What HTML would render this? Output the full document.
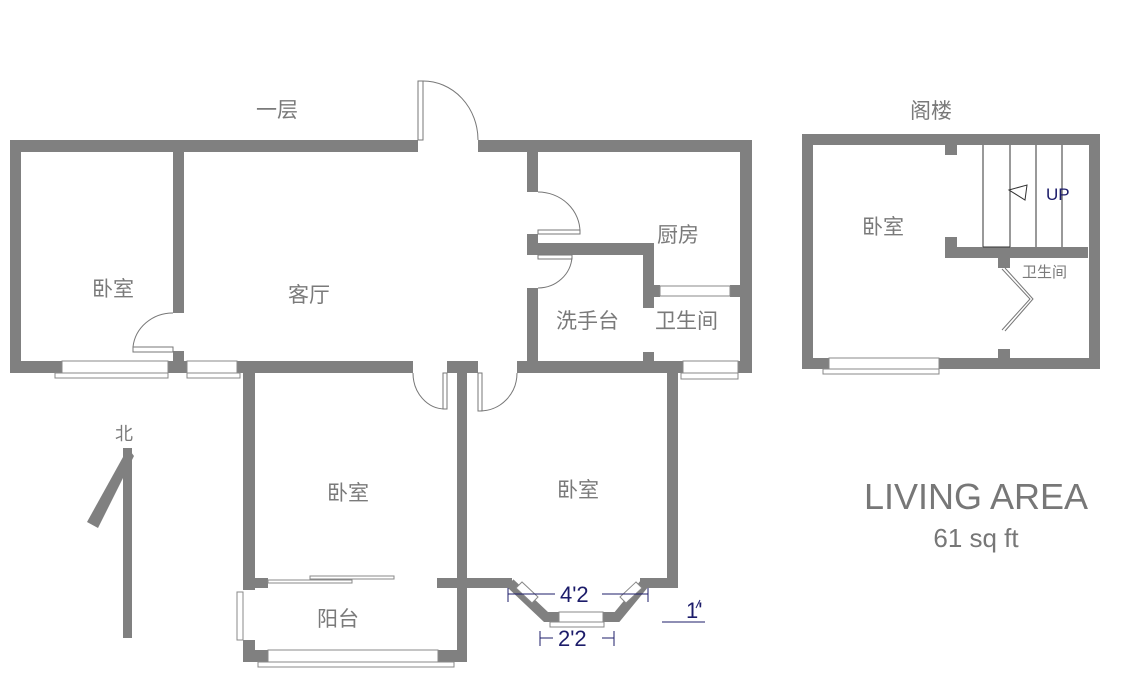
<!DOCTYPE html>
<html><head><meta charset="utf-8"><style>
html,body{margin:0;padding:0;background:#fff;}
svg{display:block;}
text{font-family:"Liberation Sans","Noto Sans CJK SC",sans-serif;}
.t{fill:#7a7a7a;font-size:21px;}
.d{fill:#1c1c6a;font-size:22px;}
</style></head><body>
<svg width="1125" height="674" viewBox="0 0 1125 674" xmlns="http://www.w3.org/2000/svg">
<rect width="1125" height="674" fill="#fff"/>
<g fill="#808080">
<rect x="10" y="140" width="408" height="12"/>
<rect x="478" y="140" width="274" height="12"/>
<rect x="10" y="140" width="11" height="233"/>
<rect x="740" y="140" width="12" height="233"/>
<rect x="173" y="140" width="11" height="173"/>
<rect x="173" y="351" width="11" height="22"/>
<rect x="10" y="361" width="403" height="12"/>
<rect x="447" y="361" width="31" height="12"/>
<rect x="517" y="361" width="235" height="12"/>
<rect x="527" y="140" width="11" height="52"/>
<rect x="527" y="234" width="11" height="21"/>
<rect x="527" y="243" width="127" height="12"/>
<rect x="643" y="243" width="11" height="65"/>
<rect x="527" y="288" width="11" height="85"/>
<rect x="643" y="352" width="11" height="12"/>
<rect x="643" y="285" width="17" height="12"/>
<rect x="730" y="285" width="12" height="12"/>
<rect x="243" y="361" width="12" height="229"/>
<rect x="243" y="640" width="12" height="22"/>
<rect x="243" y="650" width="224" height="12"/>
<rect x="457" y="361" width="10" height="301"/>
<rect x="243" y="578" width="25" height="10"/>
<rect x="437" y="578" width="30" height="10"/>
<rect x="667" y="361" width="11" height="227"/>
<rect x="467" y="578" width="45" height="10"/>
<rect x="640" y="578" width="38" height="10"/>
<rect x="945" y="145" width="12" height="10"/>
<rect x="945" y="237" width="12" height="21"/>
<rect x="945" y="247" width="143" height="11"/>
<rect x="998" y="258" width="12" height="10"/>
<rect x="998" y="349" width="12" height="10"/>
<rect x="123" y="448" width="9" height="190"/>
<polygon points="128,448 134,456 98,528 87,522"/>
</g>
<!-- attic outer -->
<rect x="807.5" y="139.5" width="287" height="224" fill="none" stroke="#808080" stroke-width="11"/>
<!-- bay -->
<polyline points="510,583 546,617 617,617 645,583" fill="none" stroke="#808080" stroke-width="10" stroke-linejoin="miter"/>
<g fill="#fff" stroke="#888" stroke-width="1">
<rect x="62" y="361" width="106" height="12"/>
<rect x="55" y="373" width="113" height="5"/>
<rect x="187" y="361" width="50" height="12"/>
<rect x="187" y="373" width="53" height="5"/>
<rect x="683" y="361" width="55" height="12"/>
<rect x="681" y="373" width="57" height="6"/>
<rect x="660" y="286" width="70" height="10"/>
<rect x="268" y="650" width="170" height="12"/>
<rect x="258" y="662" width="196" height="5"/>
<rect x="237" y="592" width="6" height="48"/>
<rect x="829" y="358" width="110" height="11"/>
<rect x="823" y="369" width="116" height="5"/>
<rect x="559" y="612" width="44" height="10"/>
<rect x="550" y="622" width="54" height="5"/>
<polygon points="516,588 522,582 538,597 532,603"/>
<polygon points="620,597 636,582 642,588 626,603"/>
<rect x="268" y="580" width="84" height="3"/>
<rect x="310" y="576" width="84" height="3"/>
</g>
<g fill="none" stroke="#777" stroke-width="1">
<rect x="418" y="81" width="5" height="59"/>
<path d="M423,81 A55,59 0 0 1 478,140"/>
<rect x="133" y="347" width="40" height="5"/>
<path d="M133,347 A40,38 0 0 1 173,313"/>
<rect x="538" y="230" width="42" height="4"/>
<path d="M538,192 A42,40 0 0 1 580,232"/>
<rect x="538" y="255" width="34" height="4"/>
<path d="M572,257 A34,33 0 0 1 538,288"/>
<rect x="443" y="373" width="4" height="36"/>
<path d="M413,373 A32,36 0 0 0 445,409"/>
<rect x="478" y="373" width="4" height="38"/>
<path d="M517,373 A37,38 0 0 1 480,411"/>
<path d="M983,145 V247 M1010,145 V247 M1036,145 V247 M1062,145 V247" stroke="#333"/>
<path d="M983,247 H1010" stroke="#333"/>
<polygon points="1009,190 1027,185 1025,200" stroke="#333"/>
<path d="M1002,269 L1030,299 L1002,330 M1005,268 L1033,299 L1005,331"/>
</g>
<g stroke="#1c1c6a" stroke-width="1" fill="none">
<path d="M508,594 H555 M602,594 H648 M508,588 V602 M648,588 V602"/>
<path d="M540,638 H553 M602,638 H614 M540,631 V646 M614,631 V646"/>
<path d="M662,622 H705 M700,600 L696,608"/>
</g>
<text class="d" x="560" y="602">4'2</text>
<text class="d" x="558" y="646">2'2</text>
<text class="d" x="686" y="618" font-size="18">1'</text>
<g class="t">
<text x="256" y="117">一层</text>
<text x="910" y="118">阁楼</text>
<text x="92" y="296">卧室</text>
<text x="288" y="302">客厅</text>
<text x="657" y="242">厨房</text>
<text x="556" y="328">洗手台</text>
<text x="655" y="328">卫生间</text>
<text x="327" y="500">卧室</text>
<text x="557" y="497">卧室</text>
<text x="317" y="626">阳台</text>
<text x="862" y="234">卧室</text>
<text x="1022" y="277" font-size="15">卫生间</text>
<text x="115" y="440" font-size="18">北</text>
</g>
<text x="1046" y="200" fill="#1c1c6a" font-size="17">UP</text>
<text x="976" y="509" fill="#777" font-size="36" text-anchor="middle">LIVING AREA</text>
<text x="976" y="547" fill="#777" font-size="26" text-anchor="middle">61 sq ft</text>
</svg>
</body></html>
